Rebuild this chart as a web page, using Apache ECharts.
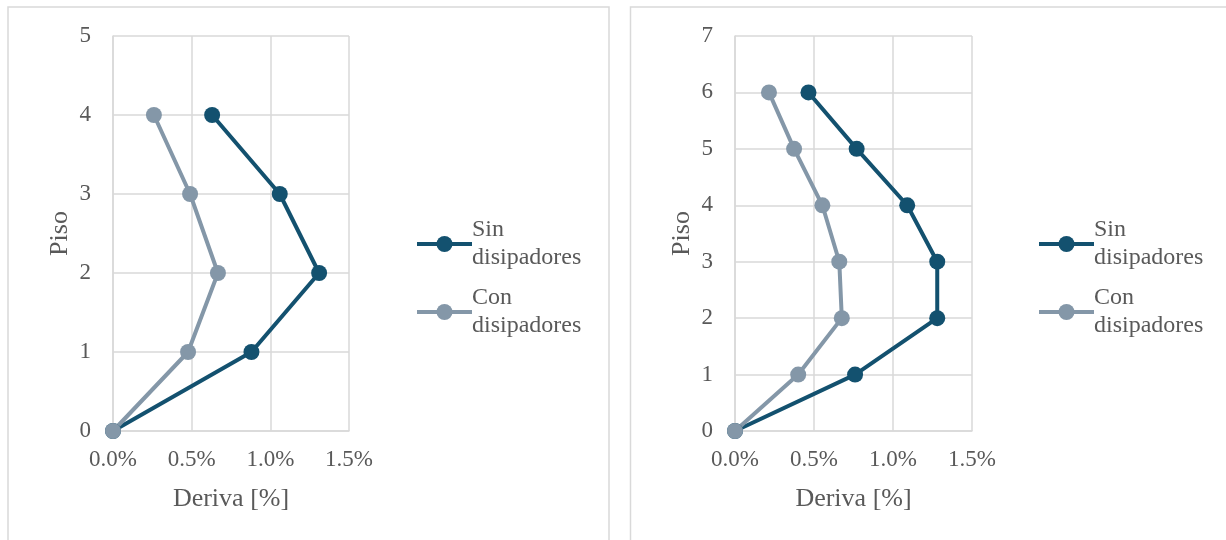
<!DOCTYPE html>
<html>
<head>
<meta charset="utf-8">
<script src="https://cdn.jsdelivr.net/npm/echarts@6/dist/echarts.min.js"></script>
<style>
html,body{margin:0;padding:0;background:#fff;}
#c{width:1226px;height:540px;}
</style>
</head>
<body>
<div id="c"></div>
<script>
// Left chart (5 floors)
const leftFloors = [0, 1, 2, 3, 4];
const leftSin = [0, 0.88, 1.31, 1.06, 0.63];
const leftCon = [0, 0.477, 0.667, 0.49, 0.26];
// Right chart (7 floors)
const rightFloors = [0, 1, 2, 3, 4, 5, 6];
const rightSin = [0, 0.76, 1.28, 1.28, 1.09, 0.77, 0.465];
const rightCon = [0, 0.40, 0.676, 0.66, 0.553, 0.374, 0.215];
const seriesNames = ['Sin disipadores', 'Con disipadores'];
const xTicks = [0, 0.5, 1.0, 1.5];

const DARK = '#13516F';
const LIGHT = '#8497A8';
const TXT = '#595959';
const GRIDC = '#D9D9D9';
const FONT = '"Liberation Serif", "Times New Roman", serif';

function pairs(xs, ys){ return xs.map((x,i)=>[x, ys[i]]); }

function xAxis(gi){
  return {
    gridIndex: gi, type:'value', min: xTicks[0], max: xTicks[xTicks.length-1], interval: 0.5,
    name: 'Deriva [%]', nameLocation:'middle', nameGap: 55,
    nameTextStyle:{color:TXT, fontFamily:FONT, fontSize:26},
    axisLine:{show:true, lineStyle:{color:GRIDC, width:1.5}},
    axisTick:{show:false},
    splitLine:{show:true, lineStyle:{color:GRIDC, width:1.5}},
    axisLabel:{color:TXT, fontFamily:FONT, fontSize:23, margin:17, formatter: v => v.toFixed(1)+'%'}
  };
}
function yAxis(gi, max){
  return {
    gridIndex: gi, type:'value', min:0, max:max, interval:1,
    name:'Piso', nameLocation:'middle', nameGap: 40, nameRotate: 90,
    nameTextStyle:{color:TXT, fontFamily:FONT, fontSize:26},
    axisLine:{show:true, lineStyle:{color:GRIDC, width:1.5}},
    axisTick:{show:false},
    splitLine:{show:true, lineStyle:{color:GRIDC, width:1.5}},
    axisLabel:{color:TXT, fontFamily:FONT, fontSize:23, margin:22}
  };
}
function line(name, gi, data, color){
  return {
    name: name, type:'line', xAxisIndex: gi, yAxisIndex: gi, data: data,
    symbol:'circle', symbolSize: 16,
    lineStyle:{color:color, width:4},
    itemStyle:{color:color},
    emphasis:{disabled:true}, animation:false
  };
}
function legend(left){
  return {
    orient:'vertical', left:left, top:211, itemWidth:55, itemHeight:20, itemGap:12,
    data: seriesNames,
    lineStyle:{width:4},
    textStyle:{color:TXT, fontFamily:FONT, fontSize:24, lineHeight:28, padding:[0,0,0,-5]},
    formatter: n => n.replace(' ', '\n')
  };
}

const chart = echarts.init(document.getElementById('c'), null, {renderer:'canvas'});
chart.setOption({
  backgroundColor:'#fff',
  animation:false,
  graphic:[
    {type:'rect', shape:{x:8, y:7, width:601, height:560}, style:{fill:'none', stroke:GRIDC, lineWidth:1.5}, silent:true},
    {type:'rect', shape:{x:630.5, y:7, width:620, height:560}, style:{fill:'none', stroke:GRIDC, lineWidth:1.5}, silent:true}
  ],
  grid:[
    {left:113, top:36, width:236, height:395},
    {left:735, top:36, width:237, height:395}
  ],
  legend:[legend(410), legend(1032)],
  xAxis:[xAxis(0), xAxis(1)],
  yAxis:[yAxis(0, 5), yAxis(1, 7)],
  series:[
    line(seriesNames[0], 0, pairs(leftSin, leftFloors), DARK),
    line(seriesNames[1], 0, pairs(leftCon, leftFloors), LIGHT),
    line(seriesNames[0], 1, pairs(rightSin, rightFloors), DARK),
    line(seriesNames[1], 1, pairs(rightCon, rightFloors), LIGHT)
  ]
});
</script>
</body>
</html>
